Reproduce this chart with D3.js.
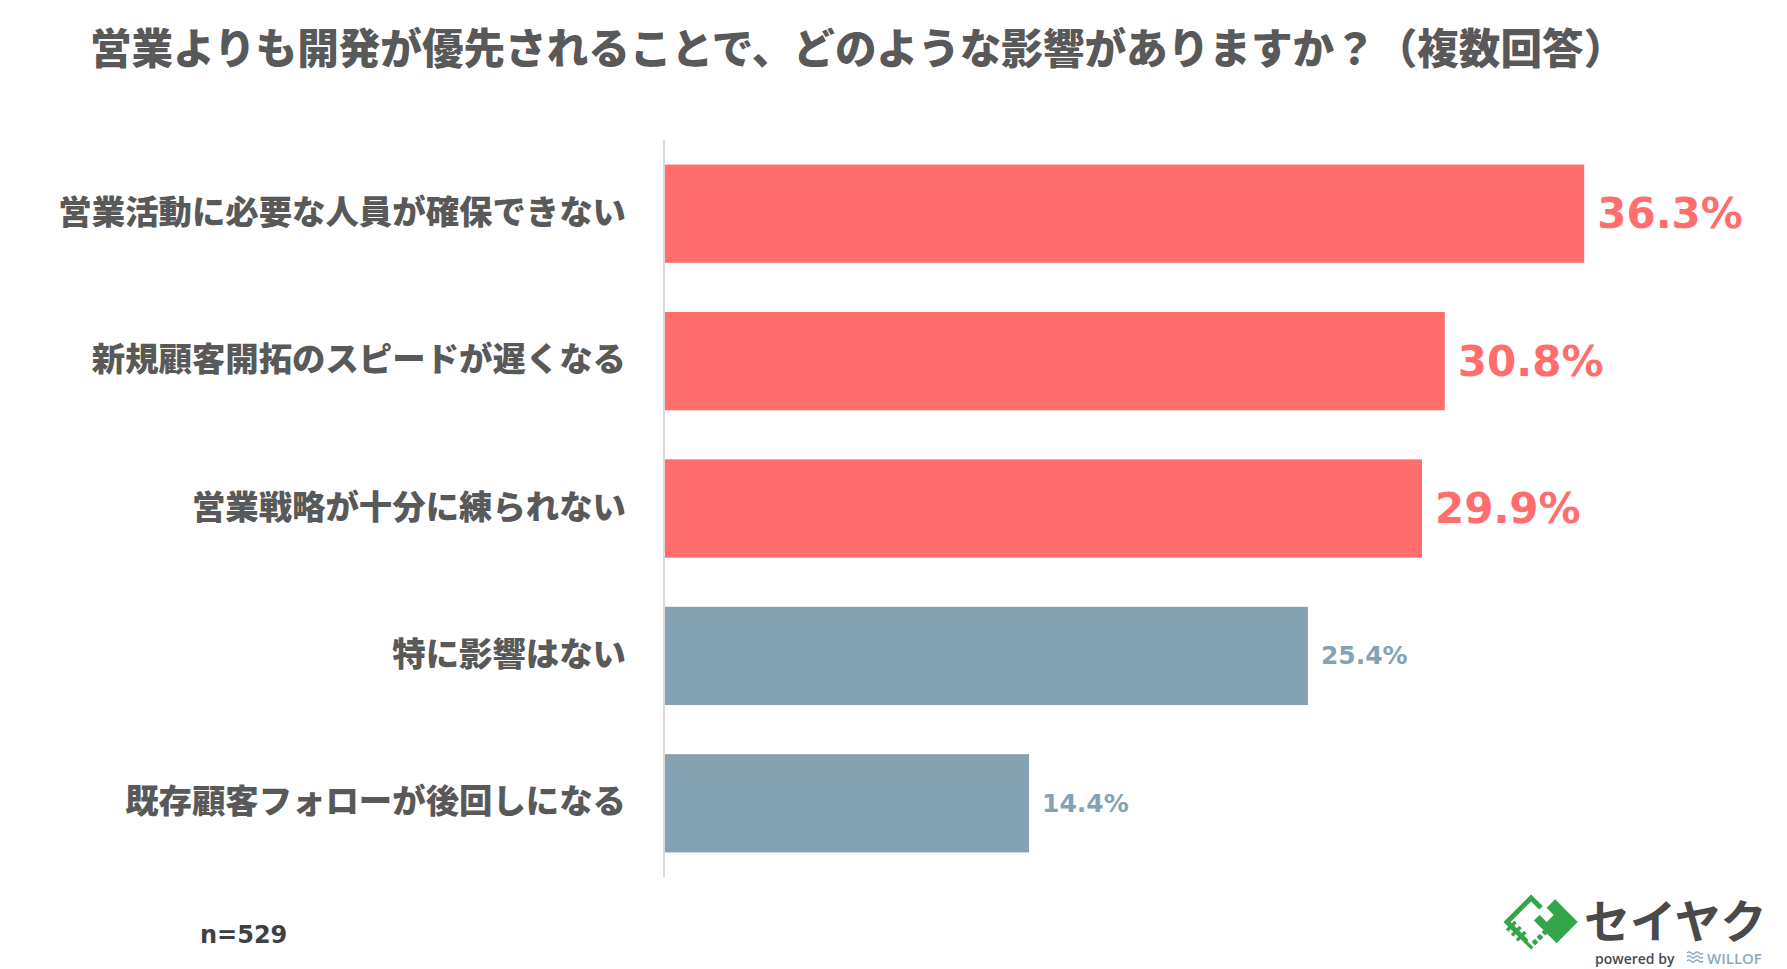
<!DOCTYPE html>
<html><head><meta charset="utf-8">
<script src="https://cdn.jsdelivr.net/npm/d3@7"></script>
<style>
body{margin:0;background:#fff;}
svg{display:block;}
</style></head>
<body>
<svg id="chart" width="1787" height="969"></svg>
<script>
const titleText = "営業よりも開発が優先されることで、どのような影響がありますか？（複数回答）";
const categories = ["営業活動に必要な人員が確保できない","新規顧客開拓のスピードが遅くなる","営業戦略が十分に練られない","特に影響はない","既存顧客フォローが後回しになる"];
const values = [36.3, 30.8, 29.9, 25.4, 14.4];
const highlighted = [true, true, true, false, false];
const sampleNote = "n=529";

const RED = "#FF6D6D", BLUE = "#84A2B3", TXT = "#595959";
const JP = "'Noto Sans CJK JP','Noto Sans',sans-serif";
const NUM = "'DejaVu Sans','Noto Sans CJK JP',sans-serif";

const svg = d3.select("#chart");

const x = d3.scaleLinear().domain([0, 40]).range([664, 1678]);
const y = d3.scaleBand().domain(categories).range([140, 877]).paddingInner(1/3).paddingOuter(1/6);

// title
svg.append("text").attr("x", 90).attr("y", 46).attr("dominant-baseline","central")
  .attr("font-family", JP).attr("font-weight", 900).attr("font-size", 41.6)
  .attr("fill", TXT).text(titleText);

// bars
svg.selectAll("rect.bar").data(categories).join("rect").attr("class","bar")
  .attr("x", x(0)).attr("y", d => y(d))
  .attr("width", (d,i) => x(values[i]) - x(0)).attr("height", y.bandwidth())
  .attr("fill", (d,i) => highlighted[i] ? RED : BLUE);

// axis line (category axis)
const yAxis = d3.axisLeft(y).tickSize(0).tickPadding(38);
const gAx = svg.append("g").attr("transform", `translate(${x(0)},0)`).call(yAxis);
gAx.select(".domain").attr("stroke", "#d9d9d9").attr("stroke-width", 2).attr("d", `M0,140V877`);
gAx.selectAll(".tick text").attr("font-family", JP).attr("font-weight", 900)
  .attr("font-size", 33.4).attr("fill", TXT).attr("dy", "0.3em");

// value labels
svg.selectAll("text.val").data(categories).join("text").attr("class","val")
  .attr("x", (d,i) => x(values[i]) + 13)
  .attr("y", d => y(d) + y.bandwidth()/2)
  .attr("dominant-baseline","central")
  .attr("font-family", NUM).attr("font-weight", 700)
  .attr("font-size", (d,i) => highlighted[i] ? 42 : 25)
  .attr("fill", (d,i) => highlighted[i] ? RED : BLUE)
  .text((d,i) => values[i].toFixed(1) + "%");

// n note
svg.append("text").attr("x", 200).attr("y", 935).attr("dominant-baseline","central")
  .attr("font-family", NUM).attr("font-weight", 700).attr("font-size", 24)
  .attr("fill", "#404040").text(sampleNote);

// logo
const G = "#33A54A";
const logo = svg.append("g");
const icon = logo.append("g").attr("transform", "translate(1541,922) rotate(45)");
// left (white) hand, outlined
icon.append("rect").attr("x", -24).attr("y", -10).attr("width", 34).attr("height", 34)
  .attr("fill", "#fff").attr("stroke", G).attr("stroke-width", 5);
// right (green) hand, filled
icon.append("rect").attr("x", -6).attr("y", -26).attr("width", 32).attr("height", 30)
  .attr("fill", G);
icon.append("rect").attr("x", -10).attr("y", -14).attr("width", 14).attr("height", 10)
  .attr("fill", "#fff");
[ -18, -11, -4 ].forEach(v => icon.append("line").attr("x1", v).attr("x2", v).attr("y1", 18).attr("y2", 30)
  .attr("stroke", G).attr("stroke-width", 3.5));
[ 8, 15, 22 ].forEach(v => icon.append("line").attr("y1", v).attr("y2", v).attr("x1", 4).attr("x2", 18)
  .attr("stroke", "#fff").attr("stroke-width", 2.5));
logo.append("text").attr("x", 1584).attr("y", 918).attr("dominant-baseline","central")
  .attr("font-family", JP).attr("font-weight", 700).attr("font-size", 46)
  .attr("fill", "#4a4a4a").text("セイヤク");
logo.append("text").attr("x", 1595).attr("y", 958).attr("dominant-baseline","central")
  .attr("font-family", "'Open Sans',sans-serif").attr("font-weight", 600).attr("font-size", 14)
  .attr("fill", "#4a4a4a").text("powered by");
const wave = logo.append("g").attr("fill", "none").attr("stroke", "#8aaac4").attr("stroke-width", 1.3);
[953, 957, 961].forEach(yy => wave.append("path")
  .attr("d", `M1687,${yy} q2,-2 4,0 t4,0 t4,0 t4,0`));
logo.append("text").attr("x", 1707).attr("y", 958).attr("dominant-baseline","central")
  .attr("font-family", "'Open Sans',sans-serif").attr("font-weight", 600).attr("font-size", 15)
  .attr("fill", "#8aaac4").text("WILLOF");
</script>
</body></html>
